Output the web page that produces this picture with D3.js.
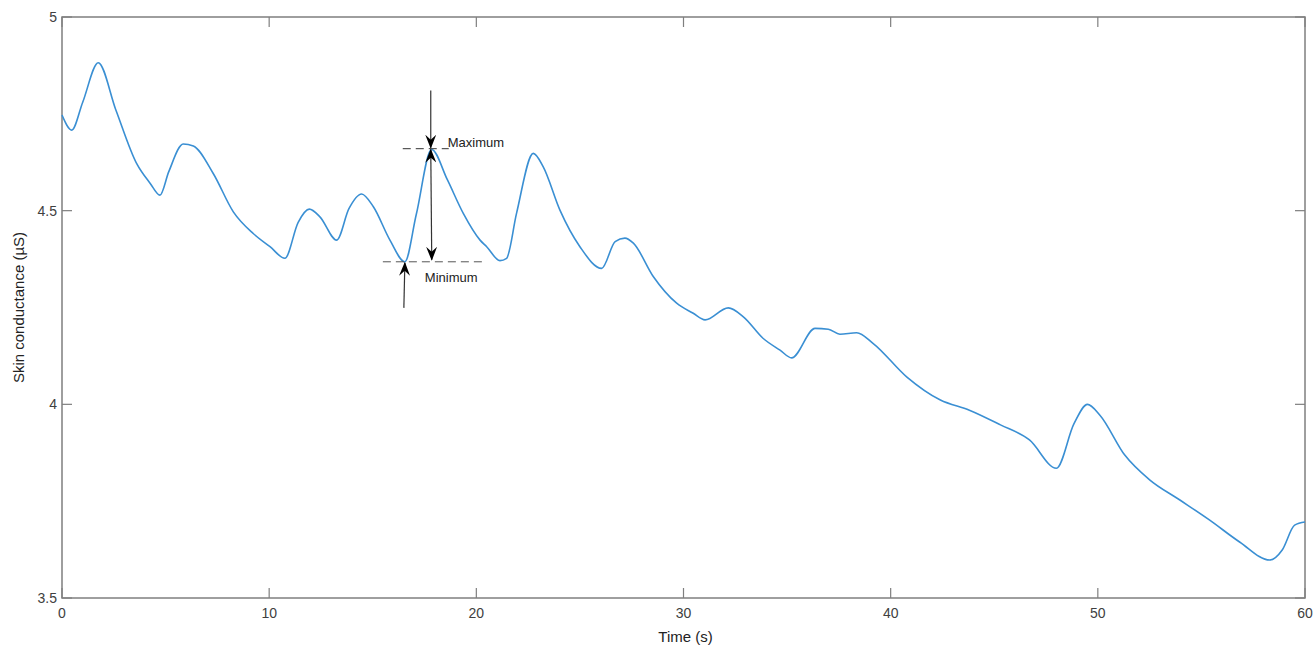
<!DOCTYPE html>
<html>
<head>
<meta charset="utf-8">
<script src="https://cdn.jsdelivr.net/npm/d3@7"></script>
<style>
  body { margin: 0; background: #fff; }
  svg { font-family: "Liberation Sans", Arial, sans-serif; }
</style>
</head>
<body>
<svg id="chart" width="1314" height="648"></svg>
<script>
// time (s) and skin conductance (µS)
const times = [0, 0.47, 1.0, 1.75, 2.6, 3.6, 4.25, 4.73, 5.15, 5.85, 6.34, 7.3, 8.27, 9.23, 10.04, 10.76,
  11.4, 11.94, 12.45, 13.26, 13.85, 14.46, 15.03, 15.83, 16.55, 17.1, 17.84, 18.6, 19.37, 20.18, 20.5, 21.14, 21.46,
  21.94, 22.75, 23.23, 24.03, 25.0, 26.05, 26.7, 27.17, 27.58, 28.54, 29.67, 30.47, 31.04, 32.16, 32.89,
  33.85, 34.66, 35.22, 36.35, 36.99, 37.55, 38.36, 39.16, 40.77, 42.4, 43.8, 45.3, 46.7, 48.0, 48.85, 49.5,
  50.1, 51.3, 52.5, 53.96, 55.4, 56.86, 58.3, 58.9, 59.5, 60];
const conductance = [4.747, 4.708, 4.78, 4.882, 4.76, 4.622, 4.571, 4.54, 4.6, 4.672, 4.667, 4.596, 4.497, 4.441, 4.407, 4.377,
  4.47, 4.504, 4.484, 4.424, 4.505, 4.543, 4.51, 4.424, 4.368, 4.49, 4.658, 4.58, 4.493, 4.424, 4.407, 4.371, 4.377,
  4.493, 4.648, 4.613, 4.502, 4.407, 4.351, 4.42, 4.429, 4.416, 4.33, 4.261, 4.235, 4.218, 4.249, 4.226,
  4.17, 4.14, 4.12, 4.196, 4.194, 4.181, 4.185, 4.157, 4.071, 4.011, 3.985, 3.947, 3.908, 3.835, 3.95, 4.0,
  3.972, 3.869, 3.805, 3.753, 3.701, 3.644, 3.598, 3.624, 3.688, 3.696];

const xTicks = [0, 10, 20, 30, 40, 50, 60];
const yTicks = [3.5, 4, 4.5, 5];

// annotated peak and trough
const maxPoint = { t: 17.8, v: 4.66 };
const minPoint = { t: 16.55, v: 4.368 };

const svg = d3.select('#chart');
const L = 62, R = 1305, T = 17, B = 598;

const x = d3.scaleLinear().domain([0, 60]).range([L, R]);
const y = d3.scaleLinear().domain([3.5, 5]).range([B, T]);

const axisColor = '#7f7f7f';
const textColor = '#404040';

// ticks (inward, on all four sides)
const tickLen = 10;
const g = svg.append('g');
xTicks.forEach(t => {
  g.append('line').attr('x1', x(t)).attr('x2', x(t)).attr('y1', B).attr('y2', B - tickLen)
    .attr('stroke', axisColor).attr('stroke-width', 1.2);
  g.append('line').attr('x1', x(t)).attr('x2', x(t)).attr('y1', T).attr('y2', T + tickLen)
    .attr('stroke', axisColor).attr('stroke-width', 1.2);
  g.append('text').attr('x', x(t)).attr('y', B + 20).attr('text-anchor', 'middle')
    .attr('font-size', 14).attr('fill', textColor).text(t);
});
yTicks.forEach(v => {
  g.append('line').attr('x1', L).attr('x2', L + tickLen).attr('y1', y(v)).attr('y2', y(v))
    .attr('stroke', axisColor).attr('stroke-width', 1.2);
  g.append('line').attr('x1', R).attr('x2', R - tickLen).attr('y1', y(v)).attr('y2', y(v))
    .attr('stroke', axisColor).attr('stroke-width', 1.2);
  g.append('text').attr('x', L - 5).attr('y', y(v) + 5).attr('text-anchor', 'end')
    .attr('font-size', 14).attr('fill', textColor).text(v);
});

svg.append('rect').attr('x', L).attr('y', T).attr('width', R - L).attr('height', B - T)
  .attr('fill', 'none').attr('stroke', axisColor).attr('stroke-width', 1.5);

svg.append('text').attr('x', (L + R) / 2 + 2).attr('y', 642).attr('text-anchor', 'middle')
  .attr('font-size', 15).attr('fill', '#222').text('Time (s)');
svg.append('text').attr('transform', `translate(24,${(T + B) / 2}) rotate(-90)`)
  .attr('text-anchor', 'middle').attr('font-size', 15).attr('fill', '#222')
  .text('Skin conductance (µS)');

// signal
const line = d3.line()
  .x((d, i) => x(times[i]))
  .y(d => y(d))
  .curve(d3.curveMonotoneX);

svg.append('path').datum(conductance)
  .attr('d', line)
  .attr('fill', 'none')
  .attr('stroke', '#3a8fd3')
  .attr('stroke-width', 1.6);

// annotations
const defs = svg.append('defs');
defs.append('marker')
  .attr('id', 'head')
  .attr('viewBox', '0 -5 14 10')
  .attr('refX', 13).attr('refY', 0)
  .attr('markerWidth', 14).attr('markerHeight', 11)
  .attr('markerUnits', 'userSpaceOnUse')
  .attr('orient', 'auto-start-reverse')
  .append('path').attr('d', 'M0,-5.5L14,0L0,5.5L5,0Z').attr('fill', '#000');

const ann = svg.append('g');
// dashed reference lines
ann.append('line').attr('x1', x(maxPoint.t) - 28).attr('x2', x(maxPoint.t) + 18)
  .attr('y1', y(maxPoint.v)).attr('y2', y(maxPoint.v))
  .attr('stroke', '#333').attr('stroke-width', 1).attr('stroke-dasharray', '8,5');
ann.append('line').attr('x1', x(minPoint.t) - 22).attr('x2', x(minPoint.t) + 82)
  .attr('y1', y(minPoint.v)).attr('y2', y(minPoint.v))
  .attr('stroke', '#555').attr('stroke-width', 1).attr('stroke-dasharray', '8,5');

// arrow down to the maximum
ann.append('line').attr('x1', x(maxPoint.t)).attr('x2', x(maxPoint.t))
  .attr('y1', y(4.81)).attr('y2', y(maxPoint.v) - 1)
  .attr('stroke', '#333').attr('stroke-width', 1.2).attr('marker-end', 'url(#head)');
// double arrow between maximum and minimum
ann.append('line').attr('x1', x(maxPoint.t)).attr('x2', x(maxPoint.t) + 1)
  .attr('y1', y(maxPoint.v) + 1).attr('y2', y(minPoint.v) - 2)
  .attr('stroke', '#333').attr('stroke-width', 1.2)
  .attr('marker-start', 'url(#head)').attr('marker-end', 'url(#head)');
// arrow up to the minimum
ann.append('line').attr('x1', x(minPoint.t) - 1).attr('x2', x(minPoint.t))
  .attr('y1', y(4.249)).attr('y2', y(minPoint.v) + 1)
  .attr('stroke', '#333').attr('stroke-width', 1.2).attr('marker-end', 'url(#head)');

ann.append('text').attr('x', x(maxPoint.t) + 17).attr('y', y(maxPoint.v) - 2)
  .attr('font-size', 13).attr('fill', '#222').text('Maximum');
ann.append('text').attr('x', x(minPoint.t) + 20).attr('y', y(minPoint.v) + 20)
  .attr('font-size', 13).attr('fill', '#222').text('Minimum');
</script>
</body>
</html>
